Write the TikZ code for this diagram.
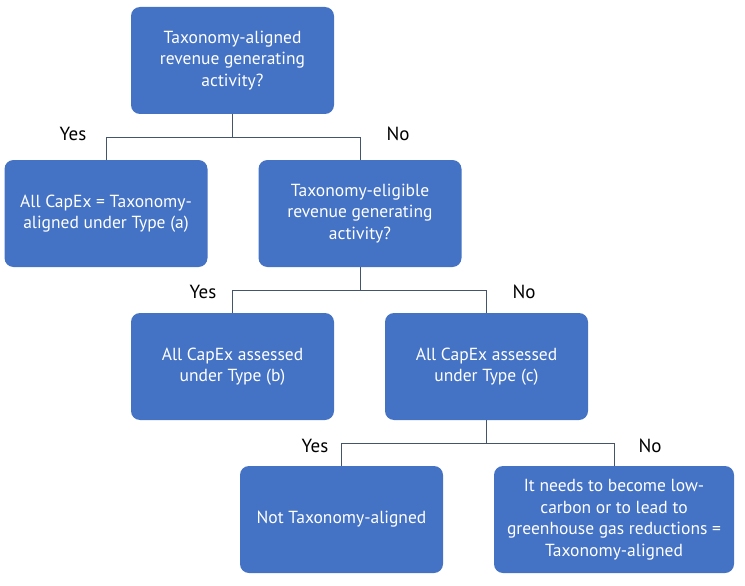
\documentclass[tikz,border=0pt]{standalone}
\usepackage{fontspec}
\setmainfont{PT Sans}
\definecolor{boxblue}{HTML}{4472C4}
\definecolor{linegray}{HTML}{44546A}
\begin{document}
\begin{tikzpicture}[x=1pt,y=-1pt,
  box/.style={rectangle, rounded corners=9pt, fill=boxblue, draw=none,
    minimum width=203pt, minimum height=107pt, inner sep=2pt,
    text=white, align=center,
    font=\fontsize{17.5}{21.5}\selectfont},
  lbl/.style={text=black, inner sep=0pt, font=\fontsize{19}{22}\selectfont},
  conn/.style={draw=linegray, line width=0.9pt}]
\useasboundingbox (0,0) rectangle (745,586);
\node[box] (top) at (232.5,60.5) {Taxonomy-aligned\\revenue generating\\activity?};
\node[box] (A) at (106,213.5) {All CapEx = Taxonomy-\\aligned under Type (a)};
\node[box] (B) at (360,213.5) {Taxonomy-eligible\\revenue generating\\activity?};
\node[box] (C) at (232.5,366.5) {All CapEx assessed\\under Type (b)};
\node[box] (D) at (486.5,366.5) {All CapEx assessed\\under Type (c)};
\node[box] (E) at (341.5,519.5) {Not Taxonomy-aligned};
\node[box, minimum width=240pt] (F) at (614,519.5) {It needs to become low-\\carbon or to lead to\\greenhouse gas reductions =\\Taxonomy-aligned};
\coordinate (j1) at ([yshift=-23pt]top.south);
\coordinate (j2) at ([yshift=-23pt]B.south);
\coordinate (j3) at ([yshift=-23pt]D.south);
\draw[conn] (top.south) -- (j1) -| (A.north);
\draw[conn] (j1) -| (B.north);
\draw[conn] (B.south) -- (j2) -| (C.north);
\draw[conn] (j2) -| (D.north);
\draw[conn] (D.south) -- (j3) -| (E.north);
\draw[conn] (j3) -| (F.north);
\node[lbl] (y1) at (73,134) {Yes};
\node[lbl] (n1) at (398,134) {No};
\node[lbl] (y2) at (203,292) {Yes};
\node[lbl] (n2) at (524,292) {No};
\node[lbl] (y3) at (315,446) {Yes};
\node[lbl] (n3) at (650,446) {No};
\end{tikzpicture}
\end{document}
